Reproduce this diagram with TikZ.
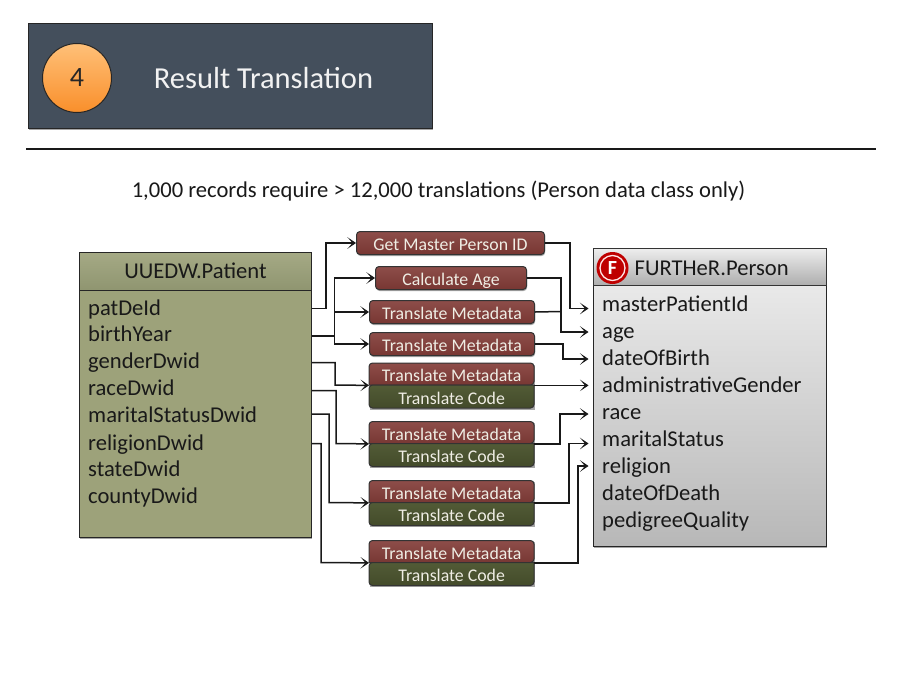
\documentclass[tikz,border=0pt]{standalone}
\usepackage{fontspec}
\setmainfont{Carlito}
\usetikzlibrary{arrows.meta,shadows}
\definecolor{slatebg}{HTML}{444F5C}
\definecolor{redA}{HTML}{8E4D49}
\definecolor{redB}{HTML}{773733}
\definecolor{greenA}{HTML}{525B36}
\definecolor{greenB}{HTML}{434B2A}
\definecolor{olive}{HTML}{9DA27A}
\definecolor{oliveB}{HTML}{8F9570}
\definecolor{lbl}{HTML}{EFEDE4}
\definecolor{orangeA}{HTML}{FFC078}
\definecolor{orangeB}{HTML}{F98F2B}
\tikzset{
  softshadow/.style={general shadow={fill=black,opacity=.35,shadow xshift=.6pt,shadow yshift=-1.5pt}},
  panel/.style={draw=black!85,line width=1pt,anchor=north west,inner sep=0pt,softshadow},
  redbox/.style={draw=black!80,line width=1pt,rounded corners=3.5pt,top color=redA,bottom color=redB,softshadow,
     text=lbl,font=\fontsize{17.8}{17.8}\selectfont,inner sep=0pt,anchor=north west,minimum height=23pt,text height=16.5pt,text depth=1pt},
  lab/.style={text=lbl,font=\fontsize{17.8}{17.8}\selectfont,inner sep=0pt,anchor=north west,minimum width=165pt,text height=16.5pt,text depth=1pt},
  row/.style={anchor=west,inner sep=0pt,text height=16pt,text depth=4pt,font=\fontsize{22.6}{22.6}\selectfont,text=black!90},
  conn/.style={draw=black!90,line width=1.5pt,-{Stealth[length=8.5pt,width=11.5pt,inset=5pt]}},
  plain/.style={draw=black!90,line width=1.5pt},
  intoperson/.style={conn,shorten >=4.5pt},
}
\newcommand{\stackpair}[2]{%
  \fill[black,opacity=.35] ({369.6},{#2+1.5}) rectangle ({534.6},{#2+46.5});
  \draw[draw=black!80,line width=1pt,top color=redA,bottom color=redB,rounded corners=3.5pt]
     (369,{#2+22}) -- (369,#2) -- (534,#2) -- (534,{#2+22}) [sharp corners] -- cycle;
  \draw[draw=black!80,line width=1pt,top color=greenA,bottom color=greenB,rounded corners=3.5pt]
     (534,{#2+22}) -- (534,{#2+45}) -- (369,{#2+45}) -- (369,{#2+22}) [sharp corners] -- cycle;
  \node[lab,minimum height=22pt] (#1m) at (369,#2) {Translate Metadata};
  \node[lab,minimum height=23pt] (#1c) at (369,{#2+22}) {Translate Code};
}
\begin{document}
\begin{tikzpicture}[x=1pt,y=-1pt]
\useasboundingbox (0,0) rectangle (900,675);
\fill[white] (0,0) rectangle (900,675);
% title band
\node[panel,fill=slatebg,minimum width=404pt,minimum height=105pt] (band) at (28,23) {};
\node[circle,draw=black!85,line width=1pt,minimum size=69pt,inner sep=0pt,top color=orangeA,bottom color=orangeB,
      font=\fontsize{28}{28}\selectfont,text=black!85] (num) at (77,78) {4};
\node[anchor=center,text=white!95!black,font=\fontsize{30.5}{30.5}\selectfont,inner sep=0pt] (ttl) at (263.5,78) {Result Translation};
\coordinate (ruleL) at (26,149);
\coordinate (ruleR) at (876,149);
\draw[black!90,line width=2pt] (ruleL) -- (ruleR);
\node[font=\fontsize{22.6}{22.6}\selectfont,text=black!90,inner sep=0pt] (sub) at (438.5,191.5) {1,000 records require > 12,000 translations (Person data class only)};
% patient
\node[panel,fill=olive,minimum width=232pt,minimum height=285pt] (patient) at (79,252) {};
\node[anchor=north west,draw=black!85,line width=1pt,top color=olive!92!white,bottom color=oliveB,minimum width=232pt,minimum height=38pt,inner sep=0pt,
      text height=16.5pt,text depth=3pt,font=\fontsize{22.6}{22.6}\selectfont,text=black!90] (phead) at (79,252) {UUEDW.Patient};
\node[row] (r1) at (88,309) {patDeId};
\node[row] (r2) at (88,335) {birthYear};
\node[row] (r3) at (88,362) {genderDwid};
\node[row] (r4) at (88,389) {raceDwid};
\node[row] (r5) at (88,416) {maritalStatusDwid};
\node[row] (r6) at (88,444) {religionDwid};
\node[row] (r7) at (88,470) {stateDwid};
\node[row] (r8) at (88,497) {countyDwid};
% person
\node[panel,top color=black!6,bottom color=black!28,minimum width=233pt,minimum height=298pt] (person) at (593,248) {};
\node[anchor=north west,draw=black!80,line width=1pt,top color=black!7,bottom color=black!32,minimum width=233pt,minimum height=37pt,inner sep=0pt] (qhead) at (593,248) {};
\node[circle,fill=red!75!black,minimum size=32pt,inner sep=0pt] (logoA) at (612.5,268) {};
\node[circle,draw=white!90!red,line width=1.3pt,fill=red!75!black,minimum size=25pt,inner sep=0pt,text=white,
      font=\fontsize{20}{20}\selectfont\bfseries] (logo) at (612.5,268) {F};
\node[anchor=west,inner sep=0pt,text height=16pt,text depth=4pt,font=\fontsize{22.6}{22.6}\selectfont,text=black!90] (qttl) at (634.5,269) {FURTHeR.Person};
\node[row] (q1) at (602,305) {masterPatientId};
\node[row] (q2) at (602,332) {age};
\node[row] (q3) at (602,359) {dateOfBirth};
\node[row] (q4) at (602,386) {administrativeGender};
\node[row] (q5) at (602,413) {race};
\node[row] (q6) at (602,440) {maritalStatus};
\node[row] (q7) at (602,467) {religion};
\node[row] (q8) at (602,494) {dateOfDeath};
\node[row] (q9) at (602,521) {pedigreeQuality};
% operations
\node[redbox,minimum width=188pt] (get) at (356,231) {Get Master Person ID};
\node[redbox,minimum width=151pt] (calc) at (375,266) {Calculate Age};
\node[redbox,minimum width=165pt] (tm1) at (369,300) {Translate Metadata};
\node[redbox,minimum width=165pt] (tm2) at (369,332) {Translate Metadata};
\stackpair{a}{363}
\stackpair{b}{421.5}
\stackpair{c}{480.5}
\stackpair{d}{540.5}
% left connectors
\draw[conn] (patient.east |- 0,308.5) -| (326,243) -- (get.west);
\draw[conn] (patient.east |- 0,336) -- (334.5,336) |- (calc.west);
\draw[conn] (334.5,336) |- (tm1.west);
\draw[conn] (334.5,336) |- (tm2.west);
\draw[conn] (patient.east |- 0,362.5) -| (335,385) -- (am.south west);
\draw[conn] (patient.east |- 0,390.5) -| (336,443.5) -- (bm.south west);
\draw[conn] (patient.east |- 0,414) -| (329,502.5) -- (cm.south west);
\draw[conn] (patient.east |- 0,443.5) -| (321,562.5) -- (dm.south west);
% right connectors
\draw[intoperson] (get.east) -| (570,308.5) -- (person.west |- 0,308.5);
\draw[intoperson] (calc.east) -| (561,332) -- (person.west |- 0,332);
\draw[plain] (tm1.east) -- (561,311.5);
\draw[intoperson] (tm2.east) -| (563,359) -- (person.west |- 0,359);
\draw[intoperson] (am.south east) -- (person.west |- am.south east);
\draw[intoperson] (bm.south east) -| (560,414) -- (person.west |- 0,414);
\draw[intoperson] (cm.south east) -| (569,443.5) -- (person.west |- 0,443.5);
\draw[intoperson] (dm.south east) -| (578,466) -- (person.west |- 0,466);
\end{tikzpicture}
\end{document}
